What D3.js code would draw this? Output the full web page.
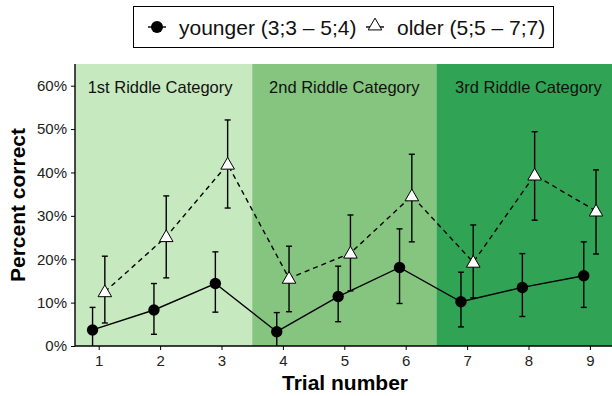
<!DOCTYPE html>
<html lang="en">
<head>
<meta charset="UTF-8">
<title>Percent correct by trial</title>
<script src="https://d3js.org/d3.v7.min.js"></script>
<style>
    body { margin: 0; padding: 0; background: #fff; }
    svg { display: block; font-family: "Liberation Sans", Arial, sans-serif; }
</style>
</head>
<body>
<svg id="chart" width="612" height="396"></svg>
<script>
    // data
    const trials = [1, 2, 3, 4, 5, 6, 7, 8, 9];
    const youngerMean = [0.037, 0.083, 0.144, 0.033, 0.114, 0.181, 0.102, 0.135, 0.162];
    const youngerLow  = [0.000, 0.027, 0.078, 0.000, 0.056, 0.098, 0.044, 0.068, 0.089];
    const youngerHigh = [0.089, 0.144, 0.217, 0.077, 0.184, 0.270, 0.170, 0.213, 0.240];
    const olderMean = [0.125, 0.252, 0.419, 0.156, 0.214, 0.346, 0.193, 0.394, 0.311];
    const olderLow  = [0.053, 0.157, 0.318, 0.079, 0.127, 0.240, 0.111, 0.290, 0.212];
    const olderHigh = [0.207, 0.346, 0.521, 0.230, 0.302, 0.442, 0.279, 0.494, 0.406];
    const categories = ["1st Riddle Category", "2nd Riddle Category", "3rd Riddle Category"];
    const categoryRanges = [[0.5, 3.5], [3.5, 6.5], [6.5, 9.5]];
    const categoryColors = ["#c7e9c0", "#86c57f", "#31a354"];
    const yTicks = [0, 0.1, 0.2, 0.3, 0.4, 0.5, 0.6];
    const legendLabels = ["younger (3;3 \u2013 5;4)", "older (5;5 \u2013 7;7)"];

    const svg = d3.select("#chart");
    const plotLeft = 75, plotRight = 612, plotTop = 64, plotBottom = 346;
    const dodge = 0.1;

    const x = d3.scaleLinear().domain([0.614, 9.36]).range([plotLeft, plotRight]);
    const y = d3.scaleLinear().domain([0, 0.65]).range([plotBottom, plotTop]);

    // clip so the last band stops at the edge
    svg.append("clipPath").attr("id", "plotclip")
        .append("rect").attr("x", plotLeft).attr("y", plotTop - 10)
        .attr("width", plotRight - plotLeft).attr("height", plotBottom - plotTop + 10);

    const plot = svg.append("g").attr("clip-path", "url(#plotclip)");

    // category bands
    plot.selectAll(".band")
        .data(categoryRanges)
        .enter()
        .append("rect")
        .attr("x", d => x(d[0]))
        .attr("y", plotTop)
        .attr("width", d => x(d[1]) - x(d[0]))
        .attr("height", plotBottom - plotTop)
        .attr("fill", (d, i) => categoryColors[i]);

    plot.selectAll(".catlabel")
        .data(categories)
        .enter()
        .append("text")
        .attr("x", (d, i) => x((categoryRanges[i][0] + categoryRanges[i][1]) / 2))
        .attr("y", 92.5)
        .attr("text-anchor", "middle")
        .attr("font-size", 16.5)
        .attr("fill", "#111")
        .text(d => d);

    const younger = trials.map((t, i) => ({ t: t - dodge, m: youngerMean[i], lo: youngerLow[i], hi: youngerHigh[i] }));
    const older = trials.map((t, i) => ({ t: t + dodge, m: olderMean[i], lo: olderLow[i], hi: olderHigh[i] }));

    const line = d3.line().x(d => x(d.t)).y(d => y(d.m));

    plot.append("path").datum(older)
        .attr("d", line).attr("fill", "none")
        .attr("stroke", "#000").attr("stroke-width", 1.4)
        .attr("stroke-dasharray", "5,4");

    plot.append("path").datum(younger)
        .attr("d", line).attr("fill", "none")
        .attr("stroke", "#000").attr("stroke-width", 1.4);

    // error bars
    const drawErrors = (data) => {
        const g = plot.append("g").attr("stroke", "#000").attr("stroke-width", 1.4);
        data.forEach(d => {
            g.append("line").attr("x1", x(d.t)).attr("x2", x(d.t))
                .attr("y1", y(d.lo)).attr("y2", y(d.hi));
            [d.lo, d.hi].forEach(v => {
                if (v <= 0) return;
                g.append("line").attr("x1", x(d.t) - 3).attr("x2", x(d.t) + 3)
                    .attr("y1", y(v)).attr("y2", y(v));
            });
        });
    };
    drawErrors(younger);
    drawErrors(older);

    // markers
    const tri = d3.symbol().type(d3.symbolTriangle).size(80);

    plot.selectAll(".young")
        .data(younger)
        .enter()
        .append("circle")
        .attr("cx", d => x(d.t))
        .attr("cy", d => y(d.m))
        .attr("r", 5.7)
        .attr("fill", "#000");

    plot.selectAll(".old")
        .data(older)
        .enter()
        .append("path")
        .attr("d", tri)
        .attr("transform", d => `translate(${x(d.t)},${y(d.m) + 1})`)
        .attr("fill", "#fff")
        .attr("stroke", "#000")
        .attr("stroke-width", 1);

    // axes
    const yAxis = svg.append("g")
        .attr("transform", `translate(${plotLeft},0)`)
        .call(d3.axisLeft(y).tickValues(yTicks).tickFormat(d3.format(".0%")).tickSize(4).tickPadding(4));
    yAxis.select(".domain").attr("d", `M0,${plotTop}V${plotBottom}`).attr("stroke-width", 1.4);
    yAxis.selectAll("text").attr("font-size", 15).attr("fill", "#222").attr("font-family", "Liberation Sans, Arial, sans-serif");

    const xAxis = svg.append("g")
        .attr("transform", `translate(0,${plotBottom})`)
        .call(d3.axisBottom(x).tickValues(trials).tickFormat(d3.format("d")).tickSize(4).tickPadding(5));
    xAxis.select(".domain").attr("d", `M${plotLeft},0H${plotRight}`).attr("stroke-width", 1.4);
    xAxis.selectAll("text").attr("font-size", 15).attr("fill", "#222").attr("font-family", "Liberation Sans, Arial, sans-serif");

    svg.append("text")
        .attr("x", 345)
        .attr("y", 390)
        .attr("text-anchor", "middle")
        .attr("font-size", 21)
        .attr("font-weight", "bold")
        .text("Trial number");

    svg.append("text")
        .attr("transform", `translate(25,${(plotTop + plotBottom) / 2}) rotate(-90)`)
        .attr("text-anchor", "middle")
        .attr("font-size", 21)
        .attr("font-weight", "bold")
        .text("Percent correct");

    // legend
    const legend = svg.append("g");
    legend.append("rect")
        .attr("x", 133.5).attr("y", 6.5)
        .attr("width", 420).attr("height", 41)
        .attr("fill", "#fff").attr("stroke", "#000").attr("stroke-width", 1);

    const keyX = [157, 375];
    legendLabels.forEach((label, i) => {
        const k = legend.append("g").attr("transform", `translate(${keyX[i]},27)`);
        k.append("line").attr("x1", -9).attr("x2", 9).attr("y1", 0).attr("y2", 0)
            .attr("stroke", "#000").attr("stroke-width", 1.4);
        if (i === 0) {
            k.append("circle").attr("r", 6).attr("fill", "#000");
        } else {
            k.append("path").attr("d", tri).attr("transform", "translate(0,-1)")
                .attr("fill", "#fff").attr("stroke", "#000").attr("stroke-width", 1);
        }
        k.append("text").attr("x", 22).attr("y", 8)
            .attr("font-size", 21).attr("fill", "#111").text(label);
    });
</script>
</body>
</html>
